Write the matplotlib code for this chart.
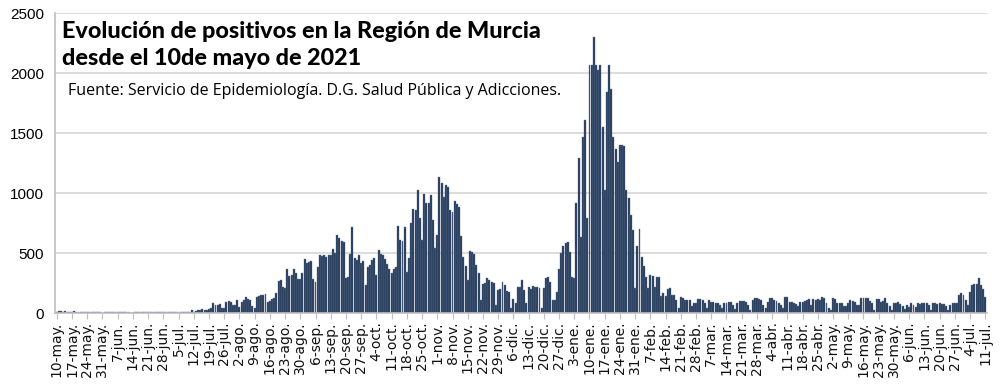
import numpy as np
import pandas as pd
import matplotlib.pyplot as plt

# Daily positives, Región de Murcia, 10 May 2020 - 11 Jul 2021 (one row per week, Sunday first)
weeks = [
    [12, 15, 14, 10, 13, 9, 8],
    [10, 14, 12, 11, 9, 7, 6],
    [8, 12, 10, 9, 8, 6, 5],
    [2, 9, 10, 8, 7, 6, 5],
    [6, 9, 8, 10, 8, 7, 4],
    [3, 8, 9, 7, 8, 6, 5],
    [6, 8, 7, 9, 8, 6, 5],
    [7, 8, 9, 8, 10, 7, 6],
    [8, 10, 9, 12, 10, 8, 25],
    [12, 15, 22, 28, 30, 28, 25],
    [30, 40, 85, 70, 65, 75, 45],
    [40, 95, 100, 95, 70, 65, 105],
    [50, 95, 105, 130, 115, 105, 55],
    [45, 130, 140, 148, 150, 158, 95],
    [100, 118, 125, 170, 265, 275, 215],
    [205, 365, 310, 320, 365, 330, 285],
    [285, 335, 450, 420, 425, 430, 285],
    [260, 385, 485, 475, 480, 470, 480],
    [480, 530, 500, 650, 625, 600, 590],
    [290, 300, 495, 715, 455, 440, 485],
    [420, 430, 230, 385, 400, 440, 460],
    [320, 525, 495, 480, 450, 410, 370],
    [330, 370, 380, 725, 610, 600, 720],
    [345, 455, 750, 870, 860, 1025, 790],
    [610, 995, 920, 915, 985, 775, 540],
    [650, 1130, 1080, 970, 1065, 1050, 860],
    [845, 930, 910, 885, 640, 470, 390],
    [275, 520, 510, 490, 400, 330, 110],
    [245, 250, 295, 275, 260, 250, 70],
    [190, 200, 260, 235, 180, 175, 40],
    [120, 80, 215, 220, 275, 190, 85],
    [215, 200, 225, 215, 220, 210, 40],
    [205, 290, 300, 260, 110, 105, 175],
    [370, 500, 555, 580, 590, 510, 300],
    [290, 915, 1290, 630, 1470, 1610, 790],
    [2065, 2070, 2300, 2065, 2025, 2065, 1550],
    [1025, 1845, 2065, 1870, 1470, 1370, 1260],
    [1400, 1400, 1390, 1025, 960, 820, 695],
    [205, 555, 700, 470, 390, 300, 205],
    [320, 305, 220, 300, 300, 140, 165],
    [140, 200, 205, 150, 150, 108, 40],
    [135, 125, 110, 105, 108, 55, 80],
    [80, 115, 115, 110, 80, 40, 108],
    [95, 94, 80, 80, 70, 40, 80],
    [86, 95, 90, 67, 32, 80, 100],
    [103, 103, 90, 67, 25, 108, 128],
    [128, 115, 110, 67, 40, 94, 122],
    [122, 108, 100, 80, 67, 40, 136],
    [136, 95, 90, 80, 75, 60, 94],
    [94, 100, 108, 114, 67, 114, 108],
    [114, 110, 136, 122, 80, 40, 25],
    [122, 120, 86, 86, 86, 58, 60],
    [80, 108, 100, 94, 67, 67, 122],
    [122, 125, 122, 100, 80, 25, 114],
    [114, 94, 100, 122, 80, 60, 25],
    [80, 85, 94, 75, 60, 30, 67],
    [53, 80, 70, 53, 80, 75, 80],
    [80, 86, 67, 25, 80, 80, 75],
    [80, 78, 75, 60, 25, 67, 80],
    [80, 86, 150, 170, 150, 108, 67],
    [178, 233, 245, 245, 290, 235, 200],
    [136],
]
positives = [v for w in weeks for v in w]

months_es = ["ene.", "feb.", "mar.", "abr.", "may.", "jun.",
             "jul.", "ago.", "sep.", "oct.", "nov.", "dic."]
days = pd.date_range("2020-05-10", "2021-07-11", freq="D")
tick_days = days[::7]
tick_labels = [f"{d.day}-{months_es[d.month - 1]}" for d in tick_days]

y_ticks = [0, 500, 1000, 1500, 2000, 2500]

title_1 = "Evolución de positivos en la Región de Murcia"
title_2 = "desde el 10de mayo de 2021"
source = "Fuente: Servicio de Epidemiología. D.G. Salud Pública y Adicciones."

fig = plt.figure(figsize=(10, 3.86), dpi=100)
ax = fig.add_axes([0.055, 0.189, 0.932, 0.777])

x = np.arange(len(positives))
ax.bar(x, positives, width=0.9, color="#1f3454", edgecolor="#6a7c98",
       linewidth=0.3, zorder=2)

ax.set_xlim(-0.8, len(positives) - 0.2)
ax.set_ylim(0, 2500)
ax.set_yticks(y_ticks)
ax.set_yticklabels([str(v) for v in y_ticks], fontsize=11, family="Liberation Sans")
ax.yaxis.grid(True, color="#d9d9d9", lw=1.3, zorder=0)
ax.set_axisbelow(True)

ax.set_xticks(x[::7])
ax.set_xticklabels(tick_labels, rotation=90, fontsize=10, family="DejaVu Sans",
                   color="#111111")
ax.tick_params(axis="x", length=4, color="#bfbfbf", pad=2)
ax.tick_params(axis="y", length=0, pad=8)

for s in ["top", "right"]:
    ax.spines[s].set_visible(False)
for s in ["left", "bottom"]:
    ax.spines[s].set_color("#bfbfbf")
    ax.spines[s].set_linewidth(1.2)

fig.text(0.062, 1 - 38 / 386, title_1, fontsize=16.8, fontweight="black",
         family="Lato", va="baseline")
fig.text(0.062, 1 - 65 / 386, title_2, fontsize=16.8, fontweight="black",
         family="Lato", va="baseline")
fig.text(0.068, 1 - 95 / 386, source, fontsize=11.5, family="Open Sans", va="baseline")

fig.savefig("out.png", dpi=100)
